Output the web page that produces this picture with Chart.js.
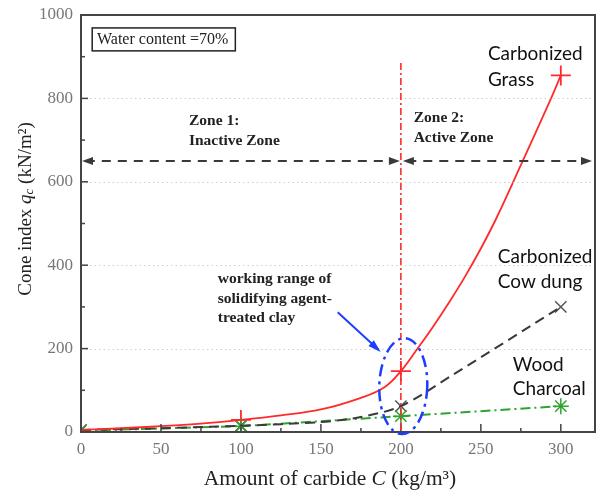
<!DOCTYPE html>
<html>
<head>
<meta charset="utf-8">
<script src="https://cdn.jsdelivr.net/npm/chart.js@4.4.1/dist/chart.umd.min.js"></script>
<style>
  html, body { margin: 0; padding: 0; background: #fff; }
  #wrap { width: 597px; height: 490px; }
</style>
</head>
<body>
<div id="wrap"><canvas id="c" width="597" height="490"></canvas></div>
<script>
// tick labels
const xTicks = [0, 50, 100, 150, 200, 250, 300];
const yTicks = [0, 200, 400, 600, 800, 1000];

// measured points (markers)
const carbide = [0, 100, 200, 300];
const grassPts = [5, 29, 146, 855];
const cowPts = [5, 15, 62, 300];
const charcoalPts = [3, 14, 38, 62];

// fitted curve for carbonized grass
const grassCurveX = [0, 25, 50, 75, 100, 125, 150, 175, 190, 200, 210, 220, 230, 240, 250, 260, 275, 293, 300];
const grassCurveY = [5, 9, 14, 20, 29, 40, 54, 82, 108, 146, 198, 252, 310, 372, 440, 515, 640, 792, 855];

// cow dung dashed curve
const cowCurveX = [0, 50, 100, 150, 175, 200, 232, 300];
const cowCurveY = [5, 9, 15, 24, 36, 62, 136, 300];

const RED = "#ff2a2a";
const BLACK = "#3a3a3a";
const GREEN = "#2fa32f";
const BLUE = "#1f3dff";
const SERIF = "'Liberation Serif', 'DejaVu Serif', serif";
const SANS = "Lato, 'Open Sans', sans-serif";

function xy(xs, ys) { return xs.map((x, i) => ({ x, y: ys[i] })); }

const overlay = {
  id: "overlay",
  afterDatasetsDraw(chart) {
    const { ctx, chartArea: a } = chart;
    const xs = chart.scales.x, ys = chart.scales.y;
    const px = v => xs.getPixelForValue(v), py = v => ys.getPixelForValue(v);

    ctx.save();
    // dotted grid
    ctx.strokeStyle = "#cfcfcf";
    ctx.lineWidth = 1;
    ctx.setLineDash([1.5, 3]);
    for (const v of [200, 400, 600, 800]) {
      ctx.beginPath(); ctx.moveTo(a.left, Math.round(py(v)) + 0.5); ctx.lineTo(a.right, Math.round(py(v)) + 0.5); ctx.stroke();
    }
    ctx.setLineDash([]);

    // frame
    ctx.strokeStyle = "#444";
    ctx.lineWidth = 2;
    ctx.strokeRect(a.left, a.top, a.right - a.left - 1, a.bottom - a.top);

    // inward ticks
    ctx.lineWidth = 1.5;
    for (let v = 0; v <= 1000; v += 100) {
      const len = v % 200 === 0 ? 7 : 4;
      ctx.beginPath(); ctx.moveTo(a.left, py(v)); ctx.lineTo(a.left + len, py(v)); ctx.stroke();
    }
    for (let v = 0; v <= 300; v += 25) {
      const len = v % 50 === 0 ? 8 : 4;
      ctx.beginPath(); ctx.moveTo(px(v), a.bottom); ctx.lineTo(px(v), a.bottom - len); ctx.stroke();
    }

    // red vertical dash-dot at 200
    ctx.strokeStyle = RED;
    ctx.lineWidth = 1.6;
    ctx.setLineDash([7, 3, 2, 3]);
    ctx.beginPath(); ctx.moveTo(px(200), py(885)); ctx.lineTo(px(200), a.bottom); ctx.stroke();

    // zone arrows
    ctx.strokeStyle = BLACK;
    ctx.fillStyle = BLACK;
    ctx.lineWidth = 2;
    ctx.setLineDash([9, 7]);
    const ay = py(650);
    ctx.beginPath(); ctx.moveTo(px(3), ay); ctx.lineTo(px(196), ay); ctx.stroke();
    ctx.beginPath(); ctx.moveTo(px(204), ay); ctx.lineTo(a.right - 8, ay); ctx.stroke();
    ctx.setLineDash([]);
    function head(x, y, dir) {
      ctx.beginPath(); ctx.moveTo(x, y); ctx.lineTo(x - dir * 11, y - 4); ctx.lineTo(x - dir * 11, y + 4); ctx.closePath(); ctx.fill();
    }
    head(px(0) + 1, ay, -1);
    head(px(200) - 1, ay, 1);
    head(px(200) + 2, ay, -1);
    head(a.right - 4, ay, 1);

    // blue ellipse
    ctx.strokeStyle = BLUE;
    ctx.lineWidth = 2.5;
    ctx.setLineDash([12, 5, 3, 5]);
    ctx.beginPath();
    ctx.ellipse(px(201.5), py(110), px(216.5) - px(201.5), py(-5) - py(110), 0.03, 0, Math.PI * 2);
    ctx.stroke();
    ctx.setLineDash([]);
    // blue arrow
    const x1 = px(160.5), y1 = py(287), x2 = px(186), y2 = py(197);
    ctx.lineWidth = 2;
    ctx.beginPath(); ctx.moveTo(x1, y1); ctx.lineTo(x2, y2); ctx.stroke();
    const ang = Math.atan2(y2 - y1, x2 - x1);
    ctx.fillStyle = BLUE;
    ctx.beginPath();
    ctx.moveTo(x2 + 3 * Math.cos(ang), y2 + 3 * Math.sin(ang));
    ctx.lineTo(x2 - 10 * Math.cos(ang) + 4 * Math.sin(ang), y2 - 10 * Math.sin(ang) - 4 * Math.cos(ang));
    ctx.lineTo(x2 - 10 * Math.cos(ang) - 4 * Math.sin(ang), y2 - 10 * Math.sin(ang) + 4 * Math.cos(ang));
    ctx.closePath(); ctx.fill();

    // water content box
    ctx.strokeStyle = "#222";
    ctx.lineWidth = 1.5;
    ctx.strokeRect(px(7), py(969), px(96.5) - px(7), py(914) - py(969));
    ctx.fillStyle = "#222";
    ctx.font = "16px " + SERIF;
    ctx.textBaseline = "middle";
    ctx.textAlign = "left";
    ctx.fillText("Water content =70%", px(10), py(941));

    // zone labels
    ctx.font = "bold 15.5px " + SERIF;
    ctx.fillText("Zone 1:", px(67.5), py(747));
    ctx.fillText("Inactive Zone", px(67.5), py(699));
    ctx.fillText("Zone 2:", px(208), py(752));
    ctx.fillText("Active Zone", px(208), py(704));
    ctx.fillText("working range of", px(85.5), py(366));
    ctx.fillText("solidifying agent-", px(85.5), py(320));
    ctx.fillText("treated clay", px(85.5), py(273));

    // series labels
    ctx.fillStyle = "#111";
    ctx.font = "19px " + SANS;
    ctx.fillText("Carbonized", px(254.4), py(907));
    ctx.fillText("Grass", px(254.4), py(845));
    ctx.fillText("Carbonized", px(260.6), py(419));
    ctx.fillText("Cow dung", px(260.6), py(359));
    ctx.fillText("Wood", px(270), py(160));
    ctx.fillText("Charcoal", px(270), py(103));

    // axis titles
    ctx.fillStyle = "#222";
    function rich(parts, cx, cy) {
      let w = 0;
      for (const p of parts) { ctx.font = p.f; w += ctx.measureText(p.t).width; }
      let x = cx - w / 2;
      for (const p of parts) {
        ctx.font = p.f;
        ctx.fillText(p.t, x, cy + (p.dy || 0));
        x += ctx.measureText(p.t).width;
      }
    }
    ctx.textAlign = "left";
    ctx.textBaseline = "middle";
    rich([
      { t: "Amount of carbide ", f: "21.5px " + SERIF },
      { t: "C", f: "italic 21.5px " + SERIF },
      { t: " (kg/m\u00b3)", f: "21.5px " + SERIF }
    ], 330, 479);
    ctx.save();
    ctx.translate(26, 209);
    ctx.rotate(-Math.PI / 2);
    rich([
      { t: "Cone index ", f: "19px " + SERIF },
      { t: "q", f: "italic 19px " + SERIF },
      { t: "c", f: "italic 13px " + SERIF, dy: 4 },
      { t: " (kN/m\u00b2)", f: "19px " + SERIF }
    ], 0, 0);
    ctx.restore();

    ctx.restore();
  }
};

new Chart(document.getElementById("c"), {
  type: "scatter",
  data: {
    datasets: [
      {
        label: "Carbonized Grass curve",
        data: xy(grassCurveX, grassCurveY),
        showLine: true, borderColor: RED, borderWidth: 1.8,
        pointRadius: 0, tension: 0.4
      },
      {
        label: "Carbonized Cow dung",
        data: xy(cowCurveX, cowCurveY),
        showLine: true, borderColor: BLACK, borderWidth: 2, borderDash: [10, 6],
        pointRadius: 0, tension: 0.3
      },
      {
        label: "Wood Charcoal",
        data: xy(carbide, charcoalPts),
        showLine: true, borderColor: GREEN, borderWidth: 2, borderDash: [10, 4, 2, 4],
        pointStyle: "star", pointRadius: 8, pointBorderColor: GREEN, pointBorderWidth: 1.5
      },
      {
        label: "Cow dung points",
        data: xy(carbide, cowPts),
        showLine: false,
        pointStyle: "crossRot", pointRadius: 8, pointBorderColor: "#555", pointBorderWidth: 1.5
      },
      {
        label: "Grass points",
        data: xy(carbide, grassPts),
        showLine: false,
        pointStyle: "cross", pointRadius: 10, pointBorderColor: RED, pointBorderWidth: 1.8
      }
    ]
  },
  options: {
    responsive: false,
    animation: false,
    events: [],
    layout: { autoPadding: false, padding: { top: 15, right: 1, left: 0, bottom: 0 } },
    plugins: { legend: { display: false }, tooltip: { enabled: false } },
    scales: {
      x: {
        type: "linear", min: 0, max: 322,
        afterBuildTicks: s => { s.ticks = xTicks.map(v => ({ value: v })); },
        afterFit: s => { s.height = 58; s.paddingRight = 0; s.paddingLeft = 0; },
        grid: { display: false, drawTicks: false },
        border: { display: false },
        ticks: { color: "#777", font: { family: SERIF, size: 17 }, padding: 7, callback: v => String(v) }
      },
      y: {
        type: "linear", min: 0, max: 1000,
        afterBuildTicks: s => { s.ticks = yTicks.map(v => ({ value: v })); },
        afterFit: s => { s.width = 81; s.paddingTop = 0; s.paddingBottom = 0; },
        grid: { display: false, drawTicks: false },
        border: { display: false },
        ticks: { color: "#777", font: { family: SERIF, size: 17 }, padding: 8, callback: v => String(v) }
      }
    }
  },
  plugins: [overlay]
});
</script>
</body>
</html>
